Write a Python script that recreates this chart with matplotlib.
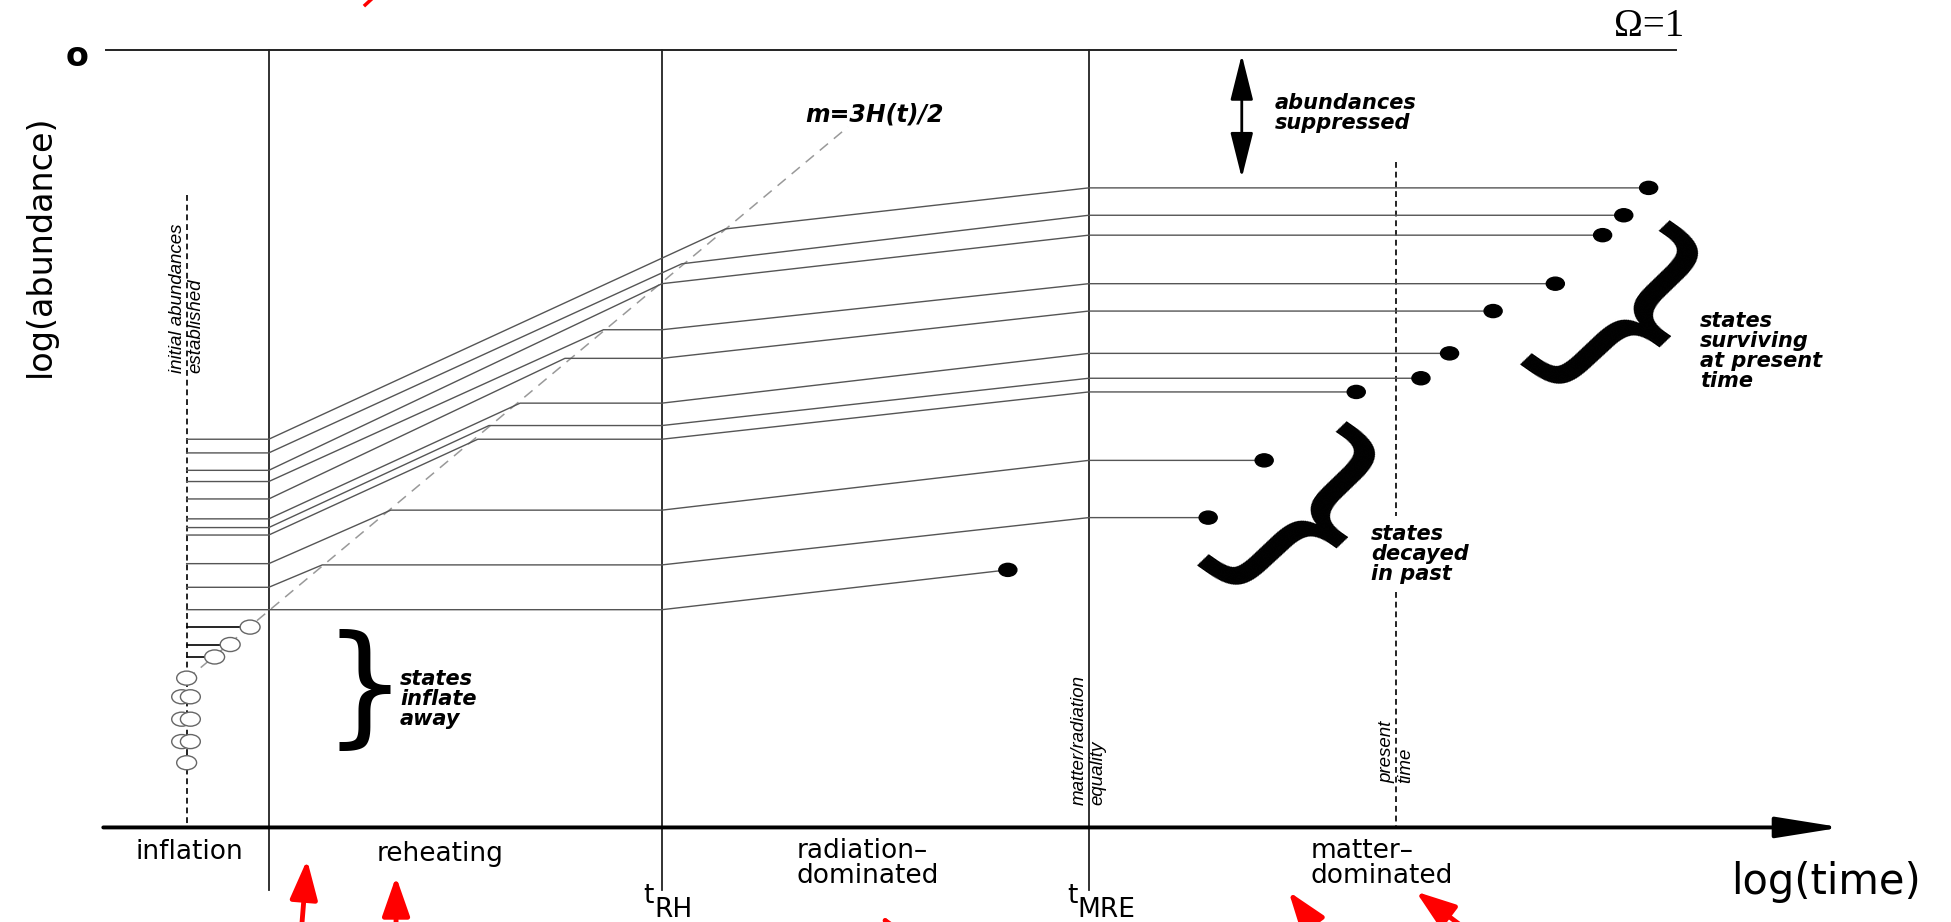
import numpy as np
import matplotlib
matplotlib.use('Agg')
from matplotlib import pyplot as plt
from matplotlib.patches import Ellipse

# epoch boundaries on the log(time) axis
t_initial = 0.65
t_inflation_end = 1.31
t_RH = 4.47
t_MRE = 7.90
t_present = 10.37

# each state: abundance after inflation, point where m=3H(t)/2 is reached,
# abundance at matter/radiation equality, point where it decays
a_start = [-3.13, -3.24, -3.38, -3.47, -3.61, -3.77, -3.84, -3.90, -4.13, -4.32, -4.50]
t_freeze = [4.98, 4.63, 4.47, 4.00, 3.69, 3.33, 3.08, 2.99, 2.29, 1.74, 1.31]
a_freeze = [-1.44, -1.72, -1.88, -2.25, -2.48, -2.84, -3.02, -3.13, -3.70, -4.14, -4.50]
a_mre = [-1.11, -1.33, -1.49, -1.88, -2.10, -2.44, -2.64, -2.75, -3.30, -3.76, np.nan]
t_decay = [12.40, 12.20, 12.03, 11.65, 11.15, 10.80, 10.57, 10.05, 9.31, 8.86, 7.25]
a_decay = [-1.11, -1.33, -1.49, -1.88, -2.10, -2.44, -2.64, -2.75, -3.30, -3.76, -4.18]

# states that inflate away (open circles)
t_lost = [1.16, 1.00, 0.875]
a_lost = [-4.64, -4.78, -4.88]
t_lost_col = [0.65, 0.61, 0.68, 0.61, 0.68, 0.61, 0.68, 0.65]
a_lost_col = [-5.05, -5.20, -5.20, -5.38, -5.38, -5.56, -5.56, -5.73]

# m = 3H(t)/2 line
t_osc = [0.65, 5.965]
a_osc = [-5.06, -0.62]

# red arrows drawn on top of the figure (tip, tail)
red_tips = [(1.618, -6.51), (2.333, -6.645), (6.23, -6.95), (9.507, -6.766), (10.53, -6.766)]
red_tails = [(1.572, -7.08), (2.333, -7.08), (6.35, -7.12), (9.77, -7.12), (11.0, -7.12)]

fig = plt.figure(figsize=(19.51, 9.22), dpi=100)
ax = fig.add_axes([0, 0, 1, 1])
ax.set_xlim(-0.85, 14.83)
ax.set_ylim(-7.01, 0.40)
ax.axis('off')

line_col = '#555555'

# axes with arrows
ax.annotate('', xy=(13.95, -6.25), xytext=(-0.02, -6.25),
            arrowprops=dict(arrowstyle='-|>,head_length=2.0,head_width=0.32', mutation_scale=20,
                            lw=2.8, color='black', shrinkA=0, shrinkB=0))
ax.annotate('', xy=(0, 0.83), xytext=(0, -6.265),
            arrowprops=dict(arrowstyle='-|>,head_length=2.0,head_width=0.4', mutation_scale=20,
                            lw=2.8, color='black', shrinkA=0, shrinkB=0))
ax.plot([0, 12.62], [0, 0], color='#222222', lw=1.4)

# epoch boundaries
for tb in [t_inflation_end, t_RH, t_MRE]:
    ax.plot([tb, tb], [0, -6.75], color='#222222', lw=1.3)
ax.plot([t_initial, t_initial], [-1.17, -6.25], color='#222222', lw=1.4, dashes=(3, 2))
ax.plot([t_present, t_present], [-0.90, -3.75], color='#222222', lw=1.4, dashes=(3, 2))
ax.plot([t_present, t_present], [-4.36, -6.25], color='#222222', lw=1.4, dashes=(3, 2))

# m=3H(t)/2
ax.plot(t_osc, a_osc, color='#999999', lw=1.1, dashes=(7, 5))

# abundance histories
for i in range(len(a_start)):
    ts = [t_initial, t_inflation_end, t_freeze[i]]
    av = [a_start[i], a_start[i], a_freeze[i]]
    if t_freeze[i] < t_RH:
        ts.append(t_RH)
        av.append(a_freeze[i])
    if t_decay[i] > t_MRE:
        ts.append(t_MRE)
        av.append(a_mre[i])
    ts.append(t_decay[i])
    av.append(a_decay[i])
    ax.plot(ts, av, color=line_col, lw=1.0, zorder=2)
    ax.add_patch(Ellipse((t_decay[i], a_decay[i]), 0.145, 0.105, color='black', zorder=3))

for tl, al in zip(t_lost, a_lost):
    ax.plot([t_initial, tl - 0.08], [al, al], color='black', lw=1.2, zorder=2)
for tl, al in zip(t_lost + t_lost_col, a_lost + a_lost_col):
    ax.add_patch(Ellipse((tl, al), 0.16, 0.113, facecolor='white', edgecolor='#666666', lw=1.0, zorder=3))

# braces
ax.text(2.08, -5.165, '}', fontsize=95, family='DejaVu Sans', ha='center', va='center')
ax.text(9.66, -3.83, '}', fontsize=160, family='DejaVu Sans', style='italic',
        ha='center', va='center', rotation=-35, rotation_mode='anchor')
ax.text(12.26, -2.21, '}', fontsize=160, family='DejaVu Sans', style='italic',
        ha='center', va='center', rotation=-35, rotation_mode='anchor')

# double arrow
ax.annotate('', xy=(9.13, -0.04), xytext=(9.13, -1.03),
            arrowprops=dict(arrowstyle='<|-|>,head_length=1.4,head_width=0.35', mutation_scale=20,
                            lw=2.0, color='black', shrinkA=0, shrinkB=0))

note = dict(family='DejaVu Sans', style='italic', weight='bold', fontsize=15, ha='left', va='center',
            linespacing=1.0)
ax.text(5.62, -0.52, 'm=3H(t)/2', **dict(note, fontsize=17))
ax.text(9.397, -0.51, 'abundances\nsuppressed', **note)
ax.text(2.365, -5.215, 'states\ninflate\naway', **note)
ax.text(10.17, -4.05, 'states\ndecayed\nin past', **note)
ax.text(12.81, -2.42, 'states\nsurviving\nat present\ntime', **note)

vnote = dict(family='Liberation Sans', style='italic', fontsize=13.5, rotation=90, rotation_mode='anchor',
             ha='left', va='center', linespacing=1.1)
ax.text(t_initial, -2.60, 'initial abundances\nestablished', **vnote)
ax.text(t_MRE, -6.07, 'matter/radiation\nequality', **vnote)
ax.text(t_present, -5.89, 'present\ntime', **vnote)

# axis labels
ax.text(-0.227, -0.058, 'o', fontsize=24, weight='bold', ha='center', va='center')
ax.text(12.40, 0.19, 'Ω=1', fontsize=28, family='Liberation Serif', ha='center', va='center')
ax.text(-0.525, -1.575, 'log(abundance)', fontsize=24, rotation=90, ha='center', va='center')
ax.text(13.825, -6.69, 'log(time)', fontsize=30, ha='center', va='center')

ep = dict(fontsize=19, va='center', linespacing=0.95)
ax.text(0.67, -6.45, 'inflation', ha='center', **ep)
ax.text(2.685, -6.46, 'reheating', ha='center', **ep)
ax.text(5.55, -6.54, 'radiation–\ndominated', ha='left', **ep)
ax.text(9.68, -6.54, 'matter–\ndominated', ha='left', **ep)
ax.text(4.32, -6.805, 't', ha='left', **ep)
ax.text(4.41, -6.915, 'RH', ha='left', **ep)
ax.text(7.73, -6.805, 't', ha='left', **ep)
ax.text(7.81, -6.915, 'MRE', ha='left', **ep)

for tip, tail in zip(red_tips, red_tails):
    ax.annotate('', xy=tip, xytext=tail,
                arrowprops=dict(arrowstyle='-|>,head_length=1.2,head_width=0.42', mutation_scale=20,
                                lw=3.5, color='red', shrinkA=0, shrinkB=0))
ax.plot([2.085, 2.15], [0.36, 0.42], color='red', lw=2.5)

plt.savefig('out.png')
